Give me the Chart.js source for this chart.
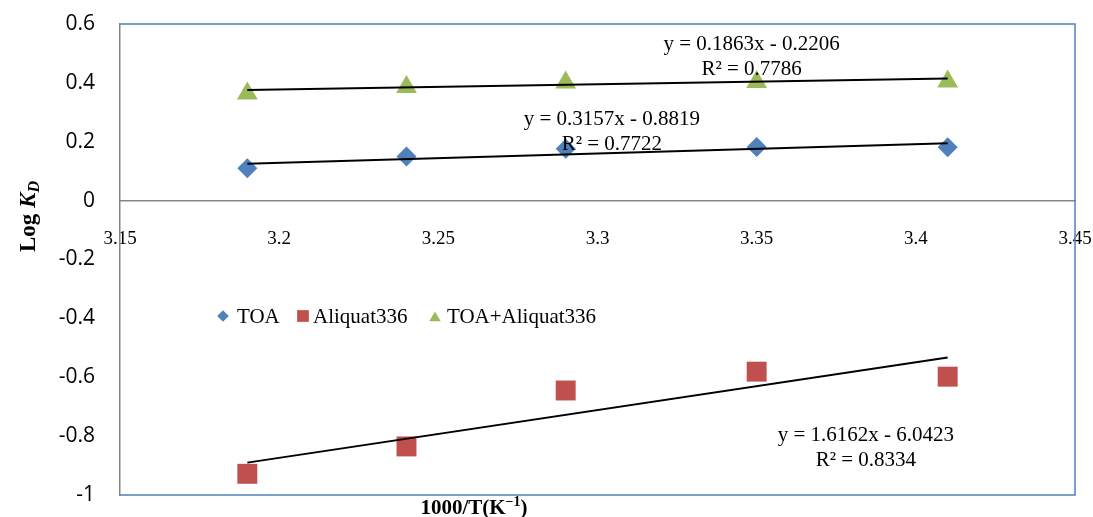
<!DOCTYPE html>
<html lang="en">
<head>
  <meta charset="UTF-8" />
  <title>Log KD vs 1000/T</title>
  <script src="https://cdn.jsdelivr.net/npm/chart.js"></script>
  <style>
    body {
      margin: 0;
      background: #fff;
    }
    .chart-container {
      width: 1093px;
      height: 517px;
    }
  </style>
</head>
<body>

  <div class="chart-container">
    <canvas id="kdChart" width="1093" height="517"></canvas>
  </div>

  <script>
    // values
    const invTemp = [3.19, 3.24, 3.29, 3.35, 3.41];
    const toaLogKd = [0.110, 0.150, 0.176, 0.182, 0.181];
    const aliquatLogKd = [-0.928, -0.835, -0.645, -0.581, -0.598];
    const mixLogKd = [0.364, 0.386, 0.401, 0.403, 0.405];

    // trendline end points (at first and last x)
    const fitX = [3.19, 3.41];
    const toaFit = [0.125, 0.195];
    const aliquatFit = [-0.890, -0.533];
    const mixFit = [0.376, 0.415];

    const seriesNames = ['TOA', 'Aliquat336', 'TOA+Aliquat336'];
    const seriesColors = ['#4F81BD', '#C0504D', '#9BBB59'];
    const seriesShapes = ['rectRot', 'rect', 'triangle'];

    // trendline equations, anchored in data coordinates
    const equations = [
      { x: 3.3045, y: 0.274, lines: ['y = 0.3157x - 0.8819', 'R\u00b2 = 0.7722'] },
      { x: 3.3843, y: -0.799, lines: ['y = 1.6162x - 6.0423', 'R\u00b2 = 0.8334'] },
      { x: 3.3484, y: 0.529, lines: ['y = 0.1863x - 0.2206', 'R\u00b2 = 0.7786'] }
    ];

    const SERIF = '"Liberation Serif", "Times New Roman", serif';
    const AXIS_GRAY = '#868686';

    function pts(xs, ys) {
      return xs.map((x, i) => ({ x: x, y: ys[i] }));
    }

    const markerDatasets = [toaLogKd, aliquatLogKd, mixLogKd].map((vals, i) => ({
      label: seriesNames[i],
      data: pts(invTemp, vals),
      showLine: false,
      pointStyle: seriesShapes[i],
      pointRadius: [10, 14.1, 12][i],
      pointBackgroundColor: seriesColors[i],
      pointBorderColor: seriesColors[i],
      pointBorderWidth: 0,
      order: 2
    }));

    const fitDatasets = [toaFit, aliquatFit, mixFit].map((vals, i) => ({
      label: seriesNames[i] + ' fit',
      data: pts(fitX, vals),
      showLine: true,
      borderColor: '#000',
      borderWidth: 2,
      pointRadius: 0,
      order: 1
    }));

    // no extra room for half-labels, the layout padding sets the plot box
    function noPad(s) {
      s.paddingLeft = 0;
      s.paddingRight = 0;
      s.paddingTop = 0;
      s.paddingBottom = 0;
    }

    const framePlugin = {
      id: 'frame',
      afterDraw(chart) {
        const { ctx, chartArea: a } = chart;
        ctx.save();
        ctx.strokeStyle = '#4F81BD';
        ctx.lineWidth = 1.5;
        ctx.beginPath();
        ctx.moveTo(a.left, a.top);
        ctx.lineTo(a.right, a.top);
        ctx.lineTo(a.right, a.bottom);
        ctx.lineTo(a.left, a.bottom);
        ctx.stroke();
        ctx.restore();
      }
    };

    const labelsPlugin = {
      id: 'labels',
      afterDatasetsDraw(chart) {
        const ctx = chart.ctx;
        const xs = chart.scales.x, ys = chart.scales.y;
        ctx.save();
        ctx.fillStyle = '#000';
        ctx.font = '21px ' + SERIF;
        ctx.textAlign = 'center';
        ctx.textBaseline = 'middle';
        equations.forEach(eq => {
          const px = xs.getPixelForValue(eq.x);
          const py = ys.getPixelForValue(eq.y);
          eq.lines.forEach((t, k) => ctx.fillText(t, px, py + k * 25));
        });

        // legend inside plot
        const legend = [
          { mx: 223, tx: 237, r: 5.8 },
          { mx: 303, tx: 313, r: 8.3 },
          { mx: 435, tx: 447, r: 6.6 }
        ];
        const ly = 316;
        ctx.textAlign = 'left';
        legend.forEach((l, i) => {
          ctx.fillStyle = seriesColors[i];
          Chart.helpers.drawPoint(ctx, { pointStyle: seriesShapes[i], radius: l.r, borderWidth: 0, rotation: 0 }, l.mx, ly + (i === 2 ? 2 : 0));
          ctx.fillStyle = '#000';
          ctx.fillText(seriesNames[i], l.tx, ly + 1);
        });

        // y axis title: Log K_D
        ctx.save();
        ctx.translate(35, 252);
        ctx.rotate(-Math.PI / 2);
        ctx.textAlign = 'left';
        ctx.textBaseline = 'alphabetic';
        ctx.font = 'bold 23px ' + SERIF;
        ctx.fillText('Log ', 0, 0);
        let w = ctx.measureText('Log ').width;
        ctx.font = 'italic bold 23px ' + SERIF;
        ctx.fillText('K', w, 0);
        w += ctx.measureText('K').width;
        ctx.font = 'italic bold 16px ' + SERIF;
        ctx.fillText('D', w, 4);
        ctx.restore();

        // x axis title: 1000/T(K^-1)
        const main = '1000/T(K', sup = '\u22121', close = ')';
        ctx.font = 'bold 21px ' + SERIF;
        const w1 = ctx.measureText(main).width, w3 = ctx.measureText(close).width;
        ctx.font = 'bold 14px ' + SERIF;
        const w2 = ctx.measureText(sup).width;
        let x0 = 474 - (w1 + w2 + w3) / 2;
        const base = 514;
        ctx.textBaseline = 'alphabetic';
        ctx.font = 'bold 21px ' + SERIF;
        ctx.fillText(main, x0, base);
        ctx.font = 'bold 14px ' + SERIF;
        ctx.fillText(sup, x0 + w1, base - 8);
        ctx.font = 'bold 21px ' + SERIF;
        ctx.fillText(close, x0 + w1 + w2, base);
        ctx.restore();
      }
    };

    new Chart(document.getElementById('kdChart'), {
      type: 'scatter',
      data: {
        datasets: markerDatasets.concat(fitDatasets)
      },
      options: {
        responsive: false,
        animation: false,
        layout: {
          padding: { left: 0, right: 18, top: 24, bottom: 22 }
        },
        plugins: {
          legend: { display: false },
          tooltip: { enabled: false }
        },
        scales: {
          x: {
            type: 'linear',
            position: { y: 0 },
            min: 3.15,
            max: 3.45,
            grid: { display: false, drawTicks: false },
            border: { display: true, color: AXIS_GRAY, width: 1.5 },
            afterFit: noPad,
            ticks: {
              stepSize: 0.05,
              maxRotation: 0,
              autoSkip: false,
              padding: 27,
              color: '#000',
              font: { family: SERIF, size: 19 },
              callback: v => String(parseFloat(v.toFixed(2)))
            }
          },
          y: {
            min: -1,
            max: 0.6,
            grid: { display: false, drawTicks: false },
            border: { display: true, color: AXIS_GRAY, width: 1.5 },
            afterFit: s => { s.width = 120; noPad(s); },
            ticks: {
              stepSize: 0.2,
              padding: 25,
              color: '#000',
              font: { family: '"Open Sans", "Noto Sans", sans-serif', size: 21 },
              callback: v => String(Math.round(v * 10) / 10)
            }
          }
        }
      },
      plugins: [framePlugin, labelsPlugin]
    });
  </script>
</body>
</html>
